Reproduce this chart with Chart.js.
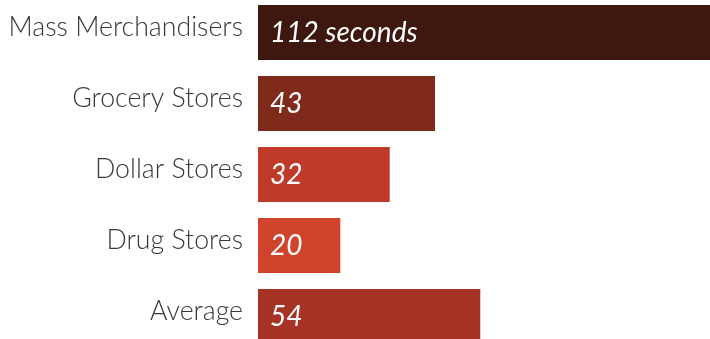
<!DOCTYPE html>
<html>
<head>
<meta charset="utf-8">
<script src="https://cdn.jsdelivr.net/npm/chart.js@4"></script>
<style>
  html, body { margin: 0; padding: 0; overflow: hidden; background: #fff; }
  body { width: 710px; height: 339px; position: relative; }
  #wrap { position: absolute; left: 0; top: -3px; width: 719px; height: 355px; }
</style>
</head>
<body>
<div id="wrap"><canvas id="chart"></canvas></div>
<script>
// chart data
var categories = ['Mass Merchandisers', 'Grocery Stores', 'Dollar Stores', 'Drug Stores', 'Average'];
var seconds = [112, 43, 32, 20, 54];
var valueLabels = ['112 seconds', '43', '32', '20', '54'];
var barColors = ['#3e180e', '#7f2a1b', '#bf3a28', '#d0432c', '#a73326'];

// draws the white italic numbers inside each bar
var barLabels = {
    id: 'barLabels',
    afterDatasetsDraw: function(chart) {
        var ctx = chart.ctx;
        var meta = chart.getDatasetMeta(0);
        ctx.save();
        ctx.fillStyle = '#ffffff';
        ctx.font = 'italic 28px Lato';
        ctx.textAlign = 'left';
        ctx.textBaseline = 'middle';
        meta.data.forEach(function(bar, i) {
            ctx.fillText(valueLabels[i], bar.base + 12, bar.y);
        });
        ctx.restore();
    }
};

var ctx = document.getElementById('chart').getContext('2d');
var chart = new Chart(ctx, {
    type: 'bar',
    data: {
        labels: categories,
        datasets: [{
            data: seconds,
            backgroundColor: barColors,
            borderWidth: 0,
            barPercentage: 0.775,
            categoryPercentage: 1
        }]
    },
    options: {
        indexAxis: 'y',
        responsive: true,
        maintainAspectRatio: false,
        animation: false,
        layout: { padding: 0 },
        plugins: {
            legend: { display: false },
            tooltip: { enabled: false }
        },
        scales: {
            x: {
                display: false,
                min: 0,
                max: 112
            },
            y: {
                grid: { display: false, drawTicks: false },
                border: { display: false },
                ticks: {
                    padding: 15,
                    labelOffset: -5,
                    color: '#383838',
                    font: { family: 'Lato', size: 26.7, weight: 300 }
                },
                afterFit: function(scale) {
                    scale.width = 258;
                    scale.paddingTop = 0;
                    scale.paddingBottom = 0;
                }
            }
        }
    },
    plugins: [barLabels]
});
</script>
</body>
</html>
